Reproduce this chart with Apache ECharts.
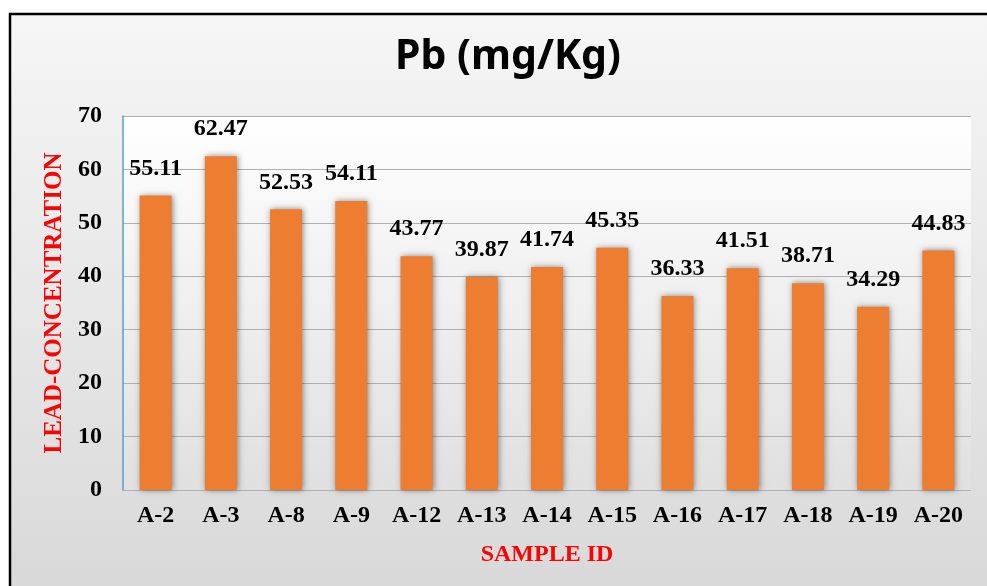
<!DOCTYPE html>
<html>
<head>
<meta charset="utf-8">
<script src="https://cdn.jsdelivr.net/npm/echarts@6/dist/echarts.min.js"></script>
<style>html,body{margin:0;padding:0;background:#fff}#c{width:987px;height:586px}</style>
</head>
<body>
<div id="c"></div>
<script>
const categories = ['A-2','A-3','A-8','A-9','A-12','A-13','A-14','A-15','A-16','A-17','A-18','A-19','A-20'];
const values = [55.11,62.47,52.53,54.11,43.77,39.87,41.74,45.35,36.33,41.51,38.71,34.29,44.83];
const yTicks = [0,10,20,30,40,50,60,70];

const serif = '"Liberation Serif","Times New Roman",serif';
const chart = echarts.init(document.getElementById('c'));
chart.setOption({
  backgroundColor: '#ffffff',
  animation: false,
  graphic: [{
    type: 'rect', z: -10, silent: true,
    shape: {x: 10, y: 14, width: 990, height: 590},
    style: {
      fill: new echarts.graphic.LinearGradient(0,0,0,1,[{offset:0,color:'#f6f6f6'},{offset:1,color:'#d8d8d8'}]),
      stroke: '#000', lineWidth: 2.5
    }
  }],
  title: {
    text: 'Pb (mg/Kg)', left: 503, top: 32, textAlign: 'center',
    textStyle: {fontFamily: '"Noto Sans", "Open Sans", sans-serif', fontWeight: 'bold', fontSize: 41, color: '#000'}
  },
  grid: {
    left: 123, right: 16, top: 116, bottom: 96, show: true, borderWidth: 0,
    backgroundColor: new echarts.graphic.LinearGradient(0,0,0,1,[{offset:0,color:'#ffffff'},{offset:1,color:'#e0e0e0'}])
  },
  xAxis: {
    type: 'category', data: categories,
    axisLine: {show: false}, axisTick: {show: false},
    axisLabel: {fontFamily: serif, fontWeight: 'bold', fontSize: 24, color: '#000', margin: 14},
    name: 'SAMPLE ID', nameLocation: 'middle', nameGap: 53,
    nameTextStyle: {fontFamily: serif, fontWeight: 'bold', fontSize: 24, color: '#ff0000'}
  },
  yAxis: {
    type: 'value', min: 0, max: 70, interval: 10,
    axisLine: {show: true, lineStyle: {color: '#5b9bd5', width: 1.5}}, axisTick: {show: false},
    axisLabel: {fontFamily: serif, fontWeight: 'bold', fontSize: 24, color: '#000', margin: 21,
      formatter: v => yTicks.includes(v) ? String(v) : ''},
    splitLine: {show: true, lineStyle: {color: '#b0b0b0', width: 1.2}},
    name: 'LEAD-CONCENTRATION', nameLocation: 'middle', nameGap: 55,
    nameTextStyle: {fontFamily: serif, fontWeight: 'bold', fontSize: 25, color: '#ff0000'}
  },
  series: [{
    type: 'bar', data: values, barWidth: 32,
    itemStyle: {color: '#ed7d31', shadowBlur: 6, shadowColor: 'rgba(0,0,0,0.45)', shadowOffsetX: 1, shadowOffsetY: 0},
    label: {show: true, position: 'top', distance: 15, fontFamily: serif, fontWeight: 'bold', fontSize: 24, color: '#000',
      formatter: p => p.value.toFixed(2)}
  }]
});
</script>
</body>
</html>
